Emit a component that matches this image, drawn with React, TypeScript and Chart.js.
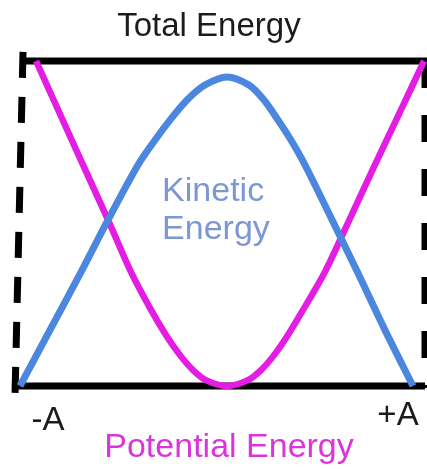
import React, { useEffect, useRef } from "react";
import { Chart, registerables } from "chart.js";

Chart.register(...registerables);

// Position (in units of amplitude A) and energy (fraction of total energy)
const kineticX = [-1.01, -0.861, -0.706, -0.572, -0.423, -0.338, -0.264, -0.179, -0.09, 0.02, 0.129, 0.204, 0.274, 0.338, 0.408, 0.572, 0.669, 0.806, 0.945];
const kineticY = [0, 0.172, 0.351, 0.511, 0.68, 0.757, 0.818, 0.88, 0.926, 0.951, 0.926, 0.88, 0.818, 0.757, 0.68, 0.474, 0.351, 0.172, 0];

const potentialX = [-0.93, -0.811, -0.692, -0.572, -0.458, -0.358, -0.284, -0.214, -0.149, -0.085, 0.02, 0.124, 0.189, 0.254, 0.323, 0.398, 0.507, 0.601, 0.751, 0.876, 1.0];
const potentialY = [1.0, 0.837, 0.674, 0.511, 0.351, 0.234, 0.157, 0.095, 0.049, 0.018, 0, 0.018, 0.049, 0.095, 0.157, 0.234, 0.351, 0.474, 0.674, 0.837, 1.0];

const totalX = [-1.0, 1.03];
const totalY = [1.0, 1.0];

const baseX = [-1.05, 1.005];
const baseY = [0, 0];

const leftBoundX = [-0.995, -1.035];
const leftBoundY = [1.028, -0.034];

const rightBoundX = [1.005, 1.005];
const rightBoundY = [1.0, -0.006];

const tickLabels = ["-A", "+A"];
const tickValues = [-1, 1];
const titleText = "Total Energy";
const kineticLabel = ["Kinetic", "Energy"];
const potentialLabel = "Potential Energy";

const zip = (xs: number[], ys: number[]) => xs.map((x, i) => ({ x, y: ys[i] }));

const FONT = "'Liberation Sans', Arial, Helvetica, sans-serif";

const textPlugin = {
  id: "energyText",
  afterDraw(chart: any) {
    const ctx = chart.ctx as CanvasRenderingContext2D;
    const xs = chart.scales.x;
    const ys = chart.scales.y;
    ctx.save();
    ctx.textBaseline = "alphabetic";

    // Title
    ctx.font = `33px ${FONT}`;
    ctx.fillStyle = "#1c1c1c";
    ctx.textAlign = "center";
    ctx.fillText(titleText, xs.getPixelForValue(-0.07), ys.getPixelForValue(1) - 25);

    // Kinetic label
    ctx.font = `34px ${FONT}`;
    ctx.fillStyle = "#7d97d5";
    ctx.textAlign = "left";
    const kx = xs.getPixelForValue(-0.303);
    ctx.fillText(kineticLabel[0], kx, ys.getPixelForValue(0.569));
    ctx.fillText(kineticLabel[1], kx, ys.getPixelForValue(0.452));

    // Tick labels
    ctx.font = `33px ${FONT}`;
    ctx.fillStyle = "#1c1c1c";
    ctx.textAlign = "center";
    const base = ys.getPixelForValue(0);
    ctx.fillText(tickLabels[0], xs.getPixelForValue(tickValues[0]) + 26, base + 44);
    ctx.fillText(tickLabels[1], xs.getPixelForValue(tickValues[1]) - 26, base + 39);

    // Potential label
    ctx.font = `34px ${FONT}`;
    ctx.fillStyle = "#d935d9";
    ctx.fillText(potentialLabel, xs.getPixelForValue(0.03), base + 71);

    ctx.restore();
  },
};

export default function App() {
  const ref = useRef<HTMLCanvasElement | null>(null);

  useEffect(() => {
    if (!ref.current) return;
    const frame = {
      borderColor: "#000000",
      borderWidth: 7,
      pointRadius: 0,
      order: 1,
      tension: 0,
    };
    const chart = new Chart(ref.current, {
      type: "line",
      data: {
        datasets: [
          { ...frame, label: "total", data: zip(totalX, totalY) },
          { ...frame, label: "base", data: zip(baseX, baseY) },
          { ...frame, label: "left", data: zip(leftBoundX, leftBoundY), borderDash: [26, 19] },
          { ...frame, label: "right", data: zip(rightBoundX, rightBoundY), borderDash: [27, 27] },
          {
            label: "Kinetic Energy",
            data: zip(kineticX, kineticY),
            borderColor: "#4b87de",
            borderWidth: 7,
            pointRadius: 0,
            tension: 0.3,
            borderJoinStyle: "round",
            order: 0,
          },
          {
            label: "Potential Energy",
            data: zip(potentialX, potentialY),
            borderColor: "#e41de4",
            borderWidth: 6.5,
            pointRadius: 0,
            tension: 0.3,
            borderJoinStyle: "round",
            order: 0,
          },
        ],
      },
      options: {
        animation: false,
        responsive: false,
        devicePixelRatio: 1,
        layout: { padding: 0 },
        plugins: {
          legend: { display: false },
          tooltip: { enabled: false },
          title: { display: false },
        },
        scales: {
          x: { type: "linear", display: false, min: -223 / 201, max: 204 / 201 },
          y: { type: "linear", display: false, min: -83 / 325, max: 386 / 325 },
        },
      },
      plugins: [textPlugin],
    } as any);
    return () => chart.destroy();
  }, []);

  return (
    <div style={{ position: "fixed", left: 0, top: 0, width: 427, height: 469, background: "#fff" }}>
      <canvas ref={ref} width={427} height={469} style={{ display: "block", width: 427, height: 469 }} />
    </div>
  );
}
